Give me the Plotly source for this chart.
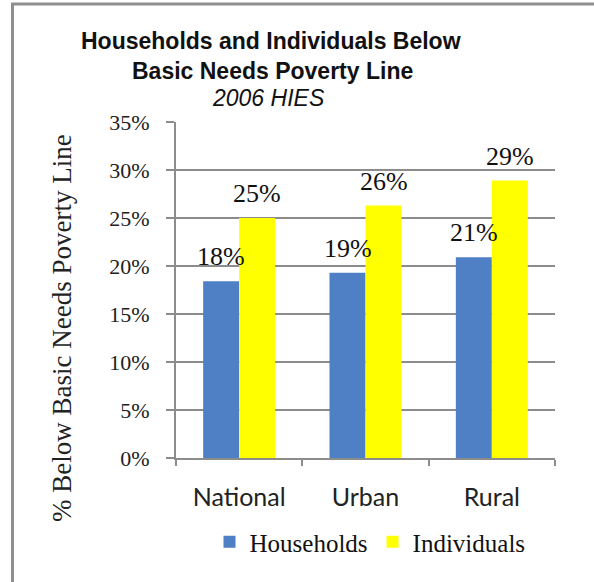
import plotly.graph_objects as go

# Poverty headcount by area, 2006 HIES (percent)
areas = ["National", "Urban", "Rural"]
households = [18.4, 19.3, 20.9]
individuals = [25.0, 26.3, 28.9]
y_ticks = [0, 5, 10, 15, 20, 25, 30, 35]
y_tick_labels = [f"{v}%" for v in y_ticks]

BLUE = "#4f7fc4"
YELLOW = "#ffff00"
GRID = "#8c8c8c"
SERIF = "Liberation Serif"
SANS = "Liberation Sans"

W, H = 594, 582
L, R, T, B = 176, 39, 122, 124
BARGAP = 0.43

fig = go.Figure()
fig.add_trace(go.Bar(name="Households", x=areas, y=households, marker_color=BLUE,
                     marker_line_width=0))
fig.add_trace(go.Bar(name="Individuals", x=areas, y=individuals, marker_color=YELLOW,
                     marker_line_width=0))

# value labels above each bar
half = (1 - BARGAP) / 4
for series, off in ((households, -half), (individuals, half)):
    for i, v in enumerate(series):
        fig.add_annotation(x=i + off, y=v, xref="x", yref="y", text=f"{v:.0f}%",
                           showarrow=False, yanchor="bottom", yshift=8,
                           font=dict(family=SERIF, size=26, color="#111"))

pw, ph = W - L - R, H - T - B
def px(x):
    return (x - L) / pw
def py(y):
    return (H - B - y) / ph

# title block
fig.add_annotation(x=px(271), y=py(41), xref="paper", yref="paper", showarrow=False,
                   xanchor="center", yanchor="middle",
                   text="<b>Households and Individuals Below</b>",
                   font=dict(family=SANS, size=23, color="#111"))
fig.add_annotation(x=px(272), y=py(71), xref="paper", yref="paper", showarrow=False,
                   xanchor="center", yanchor="middle",
                   text="<b>Basic Needs Poverty Line</b>",
                   font=dict(family=SANS, size=23, color="#111"))
fig.add_annotation(x=px(268), y=py(98), xref="paper", yref="paper", showarrow=False,
                   xanchor="center", yanchor="middle",
                   text="<i>2006 HIES</i>",
                   font=dict(family=SANS, size=23, color="#111"))

# vertical axis title
fig.add_annotation(x=px(62), y=py(328), xref="paper", yref="paper", showarrow=False,
                   xanchor="center", yanchor="middle", textangle=-90,
                   text="% Below Basic Needs Poverty Line",
                   font=dict(family=SERIF, size=27, color="#222"))

# outer frame (top and left edges visible)
fig.add_shape(type="rect", xref="paper", yref="paper", x0=px(12.5), x1=px(640),
              y0=py(4), y1=py(640), line=dict(color="#8f8f8f", width=3),
              fillcolor="rgba(0,0,0,0)", layer="above")

fig.update_layout(
    width=W, height=H,
    margin=dict(l=L, r=R, t=T, b=B, pad=0),
    paper_bgcolor="white", plot_bgcolor="white",
    barmode="group", bargap=BARGAP, bargroupgap=0,
    showlegend=True,
    legend=dict(orientation="h", x=px(370), xanchor="center", y=py(542), yanchor="middle",
                font=dict(family=SERIF, size=25, color="#111"),
                itemwidth=30, traceorder="normal", bgcolor="rgba(0,0,0,0)"),
    xaxis=dict(type="category", showline=True, linecolor=GRID, linewidth=2,
               ticks="outside", tickson="boundaries", ticklen=6, tickcolor=GRID,
               tickwidth=2, showgrid=False,
               tickfont=dict(family="Lato", size=25, color="#222"),
               ticklabelstandoff=16),
    yaxis=dict(range=[0, 35], tickvals=y_ticks, ticktext=y_tick_labels,
               showline=True, linecolor=GRID, linewidth=2,
               showgrid=True, gridcolor=GRID, gridwidth=2, zeroline=False,
               ticks="outside", ticklen=8, tickcolor=GRID, tickwidth=2,
               tickfont=dict(family=SERIF, size=22, color="#222"),
               ticklabelstandoff=12),
)

fig.write_html("out.html")
